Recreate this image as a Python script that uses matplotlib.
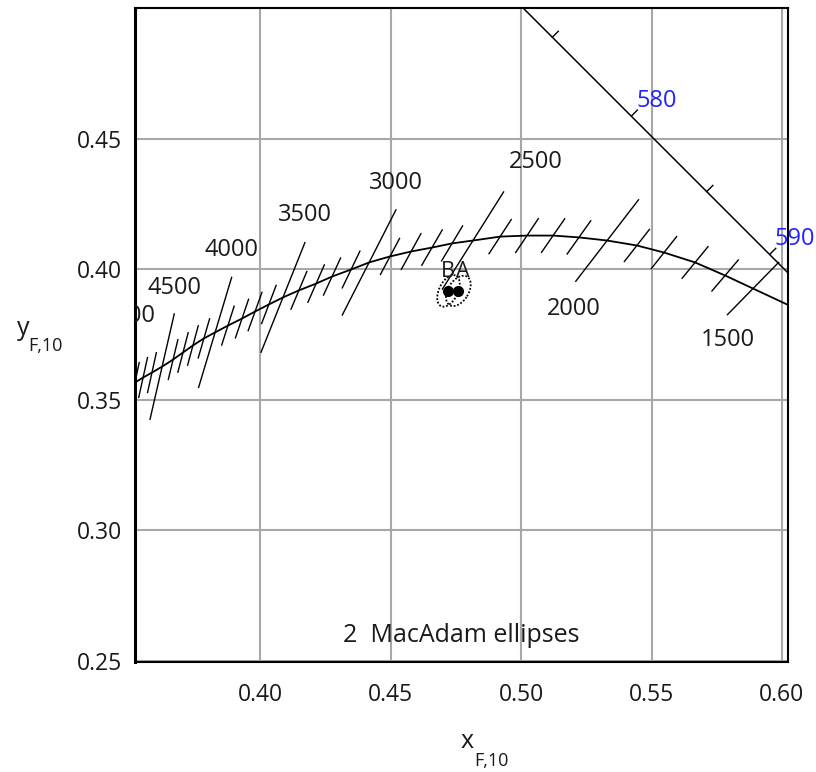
import numpy as np
import matplotlib.pyplot as plt
from matplotlib.patches import Ellipse

plt.rcParams['font.family'] = ['Open Sans', 'DejaVu Sans']

# Planckian locus, read at each isotemperature line (K)
cct = [5000, 4900, 4800, 4700, 4600, 4500, 4400, 4300, 4200, 4100,
       4000, 3900, 3800, 3700, 3600, 3500, 3400, 3300, 3200, 3100,
       3000, 2900, 2800, 2700, 2600, 2500, 2400, 2300, 2200, 2100,
       2000, 1900, 1800, 1700, 1600, 1500]
cross_x = [0.3455, 0.3494, 0.3521, 0.3552, 0.3586, 0.3625, 0.3667, 0.3705, 0.3743, 0.3785,
           0.3828, 0.3877, 0.3931, 0.3981, 0.4034, 0.4088, 0.4149, 0.4215, 0.4276, 0.4349,
           0.4418, 0.4498, 0.4579, 0.4659, 0.4736, 0.4816, 0.4920, 0.5023, 0.5123, 0.5222,
           0.5330, 0.5444, 0.5548, 0.5667, 0.5782, 0.5889]
cross_y = [0.3525, 0.3552, 0.3567, 0.3586, 0.3605, 0.3628, 0.3655, 0.3682, 0.3709, 0.3736,
           0.3759, 0.3785, 0.3812, 0.3839, 0.3866, 0.3893, 0.3920, 0.3946, 0.3973, 0.4000,
           0.4027, 0.4050, 0.4069, 0.4084, 0.4100, 0.4111, 0.4126, 0.4130, 0.4130, 0.4123,
           0.4111, 0.4092, 0.4065, 0.4027, 0.3977, 0.3927]
# tilt of each isotemperature line (dx/dy)
tilt = [0.20, 0.21, 0.21, 0.22, 0.22, 0.23, 0.24, 0.26, 0.27, 0.29,
        0.30, 0.32, 0.34, 0.36, 0.38, 0.40, 0.42, 0.44, 0.46, 0.48,
        0.51, 0.53, 0.55, 0.58, 0.60, 0.63, 0.65, 0.67, 0.69, 0.71,
        0.77, 0.78, 0.79, 0.82, 0.85, 0.98]
# half lengths of the labelled lines
long_half = {5000: 0.0200, 4500: 0.0207, 4000: 0.0220, 3500: 0.0226, 3000: 0.0226,
             2500: 0.0220, 2000: 0.0197, 1500: 0.0140}
short_half = 0.0078
# where each label sits relative to the line end (pixels)
label_off = {5000: (0, 26), 4500: (0, 26), 4000: (0, 27), 3500: (0, 28), 3000: (0, 27),
             2500: (32, 30), 2000: (-2, -28), 1500: (0, -25)}

# locus beyond 1500 K up to the frame
locus_x = cross_x + [0.6011, 0.6100]
locus_y = cross_y + [0.3870, 0.3828]

# spectrum locus and its wavelength marks
spec_x = [0.4960, 0.6100]
spec_y = [0.5050, 0.3910]
wl = [575, 580, 585, 590]
wl_x = [0.5120, 0.5423, 0.5712, 0.5953]
wl_y = [0.4890, 0.4588, 0.4299, 0.4058]
wl_labeled = [580, 590]

# test points and their 2-step MacAdam ellipses
pts = ['B', 'A']
pt_x = [0.4722, 0.4760]
pt_y = [0.3918, 0.3918]
ell_w = [0.0130, 0.0128]
ell_h = [0.0072, 0.0078]
ell_ang = [64, 58]
pt_lab_dx = [-1, 4]

fig = plt.figure(figsize=(8.16, 7.72), dpi=100)
ax = fig.add_axes([135 / 816, 110 / 772, 653 / 816, 654 / 772])
ax.set_xlim(0.3521, 0.6023)
ax.set_ylim(0.2496, 0.5002)

ax.set_xticks([0.40, 0.45, 0.50, 0.55, 0.60])
ax.set_yticks([0.25, 0.30, 0.35, 0.40, 0.45])
ax.set_xticklabels(['0.40', '0.45', '0.50', '0.55', '0.60'])
ax.set_yticklabels(['0.25', '0.30', '0.35', '0.40', '0.45'])
ax.tick_params(length=0, labelsize=16.5, colors='#1a1a1a')
ax.tick_params(axis='x', pad=15)
ax.tick_params(axis='y', pad=9)
ax.grid(True, color='#a8a8a8', lw=1.5)
ax.set_axisbelow(True)
for s in ax.spines.values():
    s.set_linewidth(1.5)
    s.set_color('black')
ax.spines['left'].set_linewidth(2.2)

# Planckian locus
ax.plot(locus_x, locus_y, color='black', lw=1.3)

# isotemperature lines
for t, cx, cy, k in zip(cct, cross_x, cross_y, tilt):
    h = long_half.get(t, short_half)
    n = np.hypot(k, 1.0)
    dx, dy = h * k / n, h / n
    ax.plot([cx - dx, cx + dx], [cy - dy, cy + dy], color='black', lw=1.0)
    if t in long_half:
        ox, oy = label_off[t]
        end = (cx + dx, cy + dy) if oy > 0 else (cx - dx, cy - dy)
        ax.annotate(str(t), end, xytext=(ox, oy), textcoords='offset pixels',
                    ha='center', va='center', fontsize=17, color='#1a1a1a',
                    annotation_clip=False, clip_on=True)

# spectrum locus with wavelength ticks
ax.plot(spec_x, spec_y, color='black', lw=1.1)
tk = 0.0023
for w, x, y in zip(wl, wl_x, wl_y):
    ax.plot([x, x + tk], [y, y + tk], color='black', lw=1.0)
    if w in wl_labeled:
        ax.annotate(str(w), (x, y), xytext=(25, 15), textcoords='offset pixels',
                    ha='center', va='center', fontsize=17, color='#2222ff',
                    annotation_clip=False)

# test points with ellipses
for p, x, y, w, h, a, ldx in zip(pts, pt_x, pt_y, ell_w, ell_h, ell_ang, pt_lab_dx):
    ax.add_patch(Ellipse((x, y), w, h, angle=a, fill=False, ls=(0, (1, 1)),
                         lw=1.3, color='black'))
    ax.plot(x, y, 'o', color='black', ms=7)
    ax.annotate(p, (x, y), xytext=(ldx, 19), textcoords='offset pixels',
                ha='center', va='center', fontsize=15.5, color='#1a1a1a')

ax.text(0.4770, 0.2598, '2  MacAdam ellipses', ha='center', va='center',
        fontsize=18, color='#1a1a1a')

# axis titles with subscripts
fig.text(467 / 816, 1 - 741 / 772, 'x', fontsize=18, ha='center', va='center', color='#1a1a1a')
fig.text(491 / 816, 1 - 761 / 772, 'F,10', fontsize=13, ha='center', va='center', color='#1a1a1a')
fig.text(23 / 816, 1 - 329 / 772, 'y', fontsize=18, ha='center', va='center', color='#1a1a1a')
fig.text(45 / 816, 1 - 346 / 772, 'F,10', fontsize=13, ha='center', va='center', color='#1a1a1a')

fig.savefig('out.png', dpi=100)
